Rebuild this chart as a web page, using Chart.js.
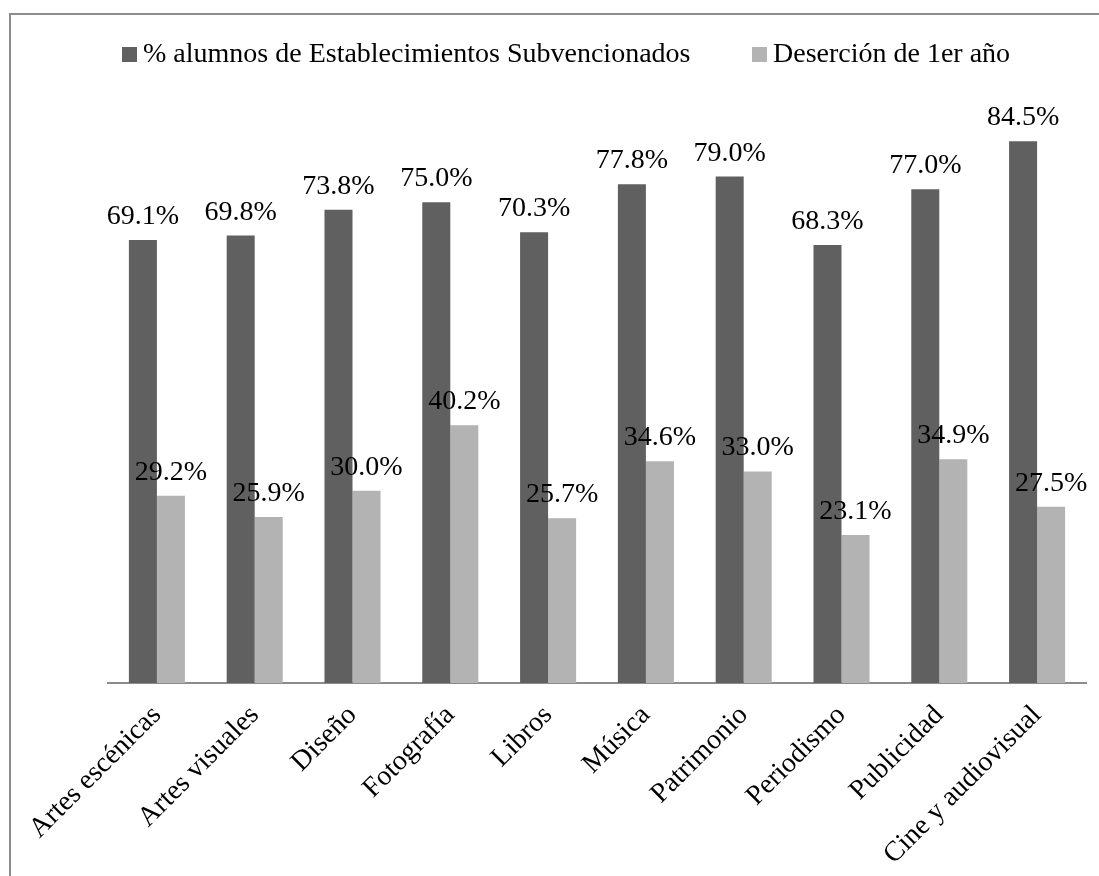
<!DOCTYPE html>
<html>
<head>
<meta charset="utf-8">
<script src="https://cdn.jsdelivr.net/npm/chart.js@4/dist/chart.umd.min.js"></script>
<style>
  html, body { margin: 0; padding: 0; background: #fff; }
  #wrap { position: relative; width: 1099px; height: 876px; overflow: hidden; }
  #frame { position: absolute; left: 9px; top: 13px; width: 1200px; height: 1000px;
           border-left: 2px solid #8c8c8c; border-top: 2px solid #8c8c8c; }
  #chart { position: absolute; left: 0; top: 0; }
  .key { position: absolute; font-family: "Liberation Serif", serif; font-size: 28px;
         line-height: 28px; color: #000; white-space: nowrap; }
  .swatch { position: absolute; width: 15px; height: 15px; }
</style>
</head>
<body>
<div id="wrap">
  <canvas id="chart" width="1099" height="876"></canvas>
  <div id="frame"></div>
  <div class="swatch" style="left:122px;top:47px;background:#606060"></div>
  <div class="key" style="left:143px;top:39px">% alumnos de Establecimientos Subvencionados</div>
  <div class="swatch" style="left:752px;top:47px;background:#b3b3b3"></div>
  <div class="key" style="left:773px;top:39px">Deserción de 1er año</div>
</div>
<script>
const areas = ['Artes escénicas', 'Artes visuales', 'Diseño', 'Fotografía', 'Libros',
  'Música', 'Patrimonio', 'Periodismo', 'Publicidad', 'Cine y audiovisual'];
const subvencionados = [69.1, 69.8, 73.8, 75.0, 70.3, 77.8, 79.0, 68.3, 77.0, 84.5];
const desercion = [29.2, 25.9, 30.0, 40.2, 25.7, 34.6, 33.0, 23.1, 34.9, 27.5];

const serif = '"Liberation Serif", serif';

// value text above each bar
const barLabels = {
  id: 'barLabels',
  afterDatasetsDraw(chart) {
    const ctx = chart.ctx;
    ctx.save();
    ctx.font = '28px ' + serif;
    ctx.fillStyle = '#000';
    ctx.textAlign = 'center';
    ctx.textBaseline = 'alphabetic';
    chart.data.datasets.forEach((ds, i) => {
      chart.getDatasetMeta(i).data.forEach((bar, j) => {
        ctx.fillText(ds.data[j].toFixed(1) + '%', bar.x, bar.y - 16);
      });
    });
    ctx.restore();
  }
};

new Chart(document.getElementById('chart'), {
  type: 'bar',
  data: {
    labels: areas,
    datasets: [
      { label: '% alumnos de Establecimientos Subvencionados', data: subvencionados,
        backgroundColor: '#606060', categoryPercentage: 0.573, barPercentage: 1 },
      { label: 'Deserción de 1er año', data: desercion,
        backgroundColor: '#b3b3b3', categoryPercentage: 0.573, barPercentage: 1 }
    ]
  },
  options: {
    responsive: false,
    animation: false,
    layout: { padding: { left: 108, right: 13, top: 106, bottom: 0 } },
    plugins: { legend: { display: false }, tooltip: { enabled: false } },
    scales: {
      x: {
        grid: { display: false },
        border: { display: true, color: '#8c8c8c', width: 2 },
        ticks: { autoSkip: false, maxRotation: 45, minRotation: 45, padding: 8,
                 color: '#000', font: { family: serif, size: 28 } },
        afterFit(s) { s.height = 193; s.paddingLeft = 0; s.paddingRight = 0; }
      },
      y: { display: false, min: 0, max: 90 }
    }
  },
  plugins: [barLabels]
});
</script>
</body>
</html>
